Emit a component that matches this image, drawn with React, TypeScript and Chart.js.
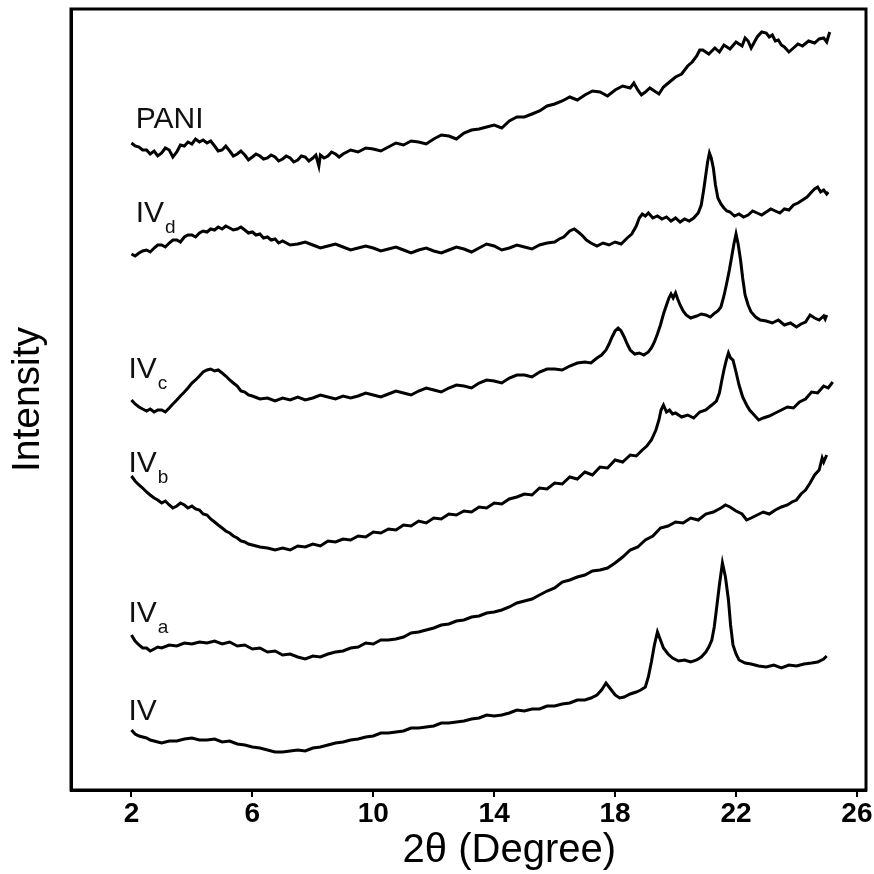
import React, { useEffect, useRef } from "react";
import { Chart, registerables } from "chart.js";

Chart.register(...registerables);

// 2θ tick labels
const xTicks = [2, 6, 10, 14, 18, 22, 26];
const xTitle = "2θ (Degree)";
const yTitle = "Intensity";

// Series (stacked XRD patterns, intensity in arbitrary units with offsets)
const PANI: [number, number][] = [
  [2.0,647],[2.12,644],[2.25,643],[2.37,640],[2.5,640],[2.62,636],[2.75,639],[2.87,634],[3.0,637],[3.12,642],[3.25,640],[3.37,633],[3.5,638],[3.62,645],[3.75,644],[3.87,648],[4.0,646],[4.12,651],[4.25,648],[4.37,650],[4.5,647],[4.62,649],[4.75,644],[4.87,639],[5.0,640],[5.12,644],[5.25,639],[5.37,634],[5.5,636],[5.62,639],[5.75,635],[5.87,630],[6.0,633],[6.12,636],[6.25,634],[6.37,631],[6.5,632],[6.62,635],[6.75,633],[6.87,629],[7.0,631],[7.12,634],[7.25,632],[7.37,628],[7.5,630],[7.62,634],[7.75,633],[7.87,629],[8.0,632],[8.1,635],[8.2,624],[8.25,635],[8.37,632],[8.5,634],[8.62,638],[8.75,636],[8.87,633],[9.0,636],[9.25,640],[9.5,638],[9.75,642],[10.0,641],[10.25,639],[10.5,643],[10.75,647],[11.0,645],[11.25,649],[11.5,648],[11.75,646],[12.0,651],[12.25,655],[12.5,654],[12.75,651],[13.0,657],[13.25,660],[13.5,661],[13.75,663],[14.0,665],[14.25,662],[14.5,669],[14.75,673],[15.0,673],[15.25,676],[15.5,679],[15.75,684],[16.0,686],[16.25,689],[16.5,693],[16.75,690],[17.0,695],[17.25,699],[17.5,698],[17.75,694],[18.0,700],[18.25,704],[18.5,702],[18.62,707],[18.75,700],[18.87,695],[19.0,698],[19.15,702],[19.3,699],[19.45,696],[19.6,703],[19.8,708],[20.0,713],[20.2,716],[20.4,724],[20.55,728],[20.7,734],[20.8,740],[20.9,740],[21.1,736],[21.3,742],[21.45,738],[21.6,745],[21.8,741],[22.0,748],[22.2,744],[22.3,752],[22.4,749],[22.5,742],[22.7,753],[22.85,758],[23.0,757],[23.1,753],[23.2,755],[23.3,749],[23.4,750],[23.5,745],[23.6,743],[23.75,738],[23.9,742],[24.05,746],[24.2,744],[24.4,749],[24.6,747],[24.75,751],[24.9,752],[25.0,748],[25.1,758],
];

const IVd: [number, number][] = [
  [2.0,536],[2.12,534],[2.25,537],[2.37,539],[2.5,540],[2.62,538],[2.75,542],[2.87,545],[3.0,545],[3.12,543],[3.25,547],[3.37,550],[3.5,550],[3.62,548],[3.75,553],[3.87,555],[4.0,555],[4.12,553],[4.25,557],[4.37,559],[4.5,558],[4.62,561],[4.75,560],[4.87,563],[5.0,561],[5.12,564],[5.25,562],[5.37,560],[5.5,561],[5.62,563],[5.75,560],[5.87,557],[6.0,558],[6.12,555],[6.25,556],[6.37,552],[6.5,553],[6.62,550],[6.75,551],[6.87,547],[7.0,549],[7.25,545],[7.5,546],[7.75,548],[8.0,545],[8.25,542],[8.5,544],[8.75,546],[9.0,543],[9.25,540],[9.5,542],[9.75,544],[10.0,542],[10.25,539],[10.5,541],[10.75,543],[11.0,540],[11.25,537],[11.5,540],[11.75,542],[12.0,539],[12.25,537],[12.5,540],[12.75,543],[13.0,541],[13.25,538],[13.5,542],[13.75,546],[14.0,544],[14.25,540],[14.5,542],[14.75,545],[15.0,543],[15.25,541],[15.5,545],[15.75,547],[16.0,548],[16.15,551],[16.3,553],[16.5,559],[16.65,561],[16.78,558],[16.9,555],[17.05,550],[17.2,547],[17.4,544],[17.6,547],[17.8,545],[18.0,548],[18.2,546],[18.4,552],[18.55,556],[18.7,564],[18.8,572],[18.9,576],[19.0,574],[19.1,577],[19.25,572],[19.4,574],[19.55,571],[19.7,573],[19.85,569],[20.0,572],[20.15,568],[20.3,571],[20.45,569],[20.6,572],[20.75,577],[20.85,585],[20.93,600],[21.0,615],[21.06,628],[21.12,637],[21.18,632],[21.25,622],[21.32,605],[21.4,592],[21.5,586],[21.6,582],[21.7,579],[21.8,578],[21.95,574],[22.1,576],[22.25,573],[22.4,575],[22.55,579],[22.7,577],[22.85,575],[23.0,578],[23.15,581],[23.3,579],[23.45,577],[23.6,581],[23.75,580],[23.9,585],[24.05,587],[24.2,590],[24.35,593],[24.5,598],[24.6,601],[24.7,603],[24.8,598],[24.9,600],[25.0,596],[25.05,598],
];

const IVc: [number, number][] = [
  [2.0,390],[2.12,386],[2.25,383],[2.37,381],[2.5,379],[2.62,381],[2.75,378],[2.87,380],[3.0,380],[3.12,378],[3.25,382],[3.37,386],[3.5,390],[3.62,394],[3.75,398],[3.87,402],[4.0,407],[4.12,410],[4.25,414],[4.37,418],[4.5,420],[4.62,421],[4.75,419],[4.87,420],[5.0,417],[5.12,414],[5.25,410],[5.37,407],[5.5,404],[5.62,399],[5.75,398],[5.87,395],[6.0,394],[6.25,391],[6.5,392],[6.75,389],[7.0,392],[7.25,390],[7.5,393],[7.75,390],[8.0,392],[8.25,395],[8.5,393],[8.75,391],[9.0,394],[9.25,392],[9.5,394],[9.75,397],[10.0,395],[10.25,393],[10.5,396],[10.75,399],[11.0,397],[11.25,395],[11.5,399],[11.75,402],[12.0,400],[12.25,398],[12.5,402],[12.75,405],[13.0,404],[13.25,402],[13.5,407],[13.75,410],[14.0,409],[14.25,407],[14.5,412],[14.75,415],[15.0,415],[15.25,413],[15.5,418],[15.75,421],[16.0,421],[16.25,420],[16.5,424],[16.75,427],[17.0,428],[17.2,427],[17.4,432],[17.55,435],[17.7,440],[17.8,446],[17.9,453],[18.0,459],[18.1,462],[18.2,459],[18.3,453],[18.4,446],[18.5,440],[18.65,436],[18.8,437],[18.95,435],[19.1,438],[19.2,442],[19.3,448],[19.4,456],[19.5,465],[19.6,476],[19.7,485],[19.78,492],[19.85,496],[19.92,492],[20.0,497],[20.07,491],[20.15,485],[20.25,479],[20.35,475],[20.5,472],[20.7,474],[20.85,476],[21.0,475],[21.15,473],[21.3,477],[21.4,479],[21.5,483],[21.6,494],[21.7,508],[21.78,520],[21.85,532],[21.93,546],[22.0,556],[22.07,546],[22.15,530],[22.22,512],[22.3,495],[22.4,485],[22.5,478],[22.65,473],[22.8,470],[23.0,469],[23.2,467],[23.4,470],[23.6,465],[23.8,467],[24.0,463],[24.15,466],[24.3,468],[24.45,475],[24.6,472],[24.75,470],[24.9,474],[24.95,471],[25.0,475],
];

const IVb: [number, number][] = [
  [2.0,314],[2.12,309],[2.25,305],[2.37,302],[2.5,298],[2.62,295],[2.75,292],[2.87,290],[3.0,287],[3.12,289],[3.25,285],[3.37,282],[3.5,284],[3.62,287],[3.75,285],[3.87,282],[4.0,284],[4.12,281],[4.25,280],[4.37,276],[4.5,275],[4.62,271],[4.75,268],[4.87,265],[5.0,262],[5.12,259],[5.25,257],[5.37,254],[5.5,252],[5.62,249],[5.75,248],[5.87,246],[6.0,245],[6.25,243],[6.5,242],[6.75,240],[7.0,242],[7.25,240],[7.5,244],[7.75,243],[8.0,246],[8.25,244],[8.5,249],[8.75,248],[9.0,251],[9.25,250],[9.5,254],[9.75,253],[10.0,258],[10.25,257],[10.5,261],[10.75,260],[11.0,265],[11.25,264],[11.5,269],[11.75,267],[12.0,272],[12.25,271],[12.5,276],[12.75,275],[13.0,279],[13.25,278],[13.5,283],[13.75,282],[14.0,287],[14.25,286],[14.5,291],[14.75,293],[15.0,296],[15.25,295],[15.5,302],[15.75,301],[16.0,307],[16.25,306],[16.5,313],[16.75,311],[17.0,318],[17.25,315],[17.5,323],[17.75,322],[18.0,330],[18.25,328],[18.5,335],[18.7,334],[18.9,340],[19.05,344],[19.2,350],[19.35,360],[19.45,370],[19.52,380],[19.6,385],[19.7,378],[19.8,380],[19.9,376],[20.0,377],[20.2,373],[20.4,375],[20.6,372],[20.8,378],[21.0,380],[21.2,385],[21.35,389],[21.45,397],[21.52,408],[21.6,420],[21.68,430],[21.75,437],[21.82,432],[21.9,430],[22.0,418],[22.1,405],[22.22,393],[22.35,385],[22.45,380],[22.6,375],[22.75,370],[22.9,372],[23.1,374],[23.3,377],[23.5,380],[23.7,383],[23.9,382],[24.1,388],[24.3,391],[24.5,398],[24.7,397],[24.9,404],[25.05,402],[25.2,408],
];

const IVa: [number, number][] = [
  [2.0,155],[2.12,149],[2.25,145],[2.37,142],[2.5,142],[2.62,139],[2.75,141],[2.87,143],[3.0,142],[3.25,145],[3.5,144],[3.75,147],[4.0,146],[4.25,148],[4.5,147],[4.75,149],[5.0,146],[5.25,148],[5.5,144],[5.75,145],[6.0,141],[6.25,142],[6.5,138],[6.75,139],[7.0,135],[7.25,136],[7.5,133],[7.75,131],[8.0,134],[8.25,133],[8.5,136],[8.75,138],[9.0,139],[9.25,142],[9.5,143],[9.75,147],[10.0,146],[10.25,150],[10.5,150],[10.75,151],[11.0,153],[11.25,157],[11.5,158],[11.75,160],[12.0,162],[12.25,165],[12.5,166],[12.75,169],[13.0,170],[13.25,173],[13.5,174],[13.75,177],[14.0,178],[14.25,180],[14.5,183],[14.75,187],[15.0,189],[15.25,191],[15.5,195],[15.75,199],[16.0,202],[16.25,208],[16.5,210],[16.75,213],[17.0,215],[17.25,219],[17.5,220],[17.75,222],[18.0,227],[18.25,233],[18.5,240],[18.75,243],[19.0,250],[19.25,254],[19.5,262],[19.75,264],[20.0,268],[20.25,267],[20.5,272],[20.75,270],[21.0,276],[21.25,278],[21.5,282],[21.65,285],[21.8,283],[22.0,279],[22.2,276],[22.35,270],[22.5,272],[22.7,275],[22.9,278],[23.1,276],[23.3,280],[23.5,283],[23.7,285],[23.85,288],[24.0,290],[24.15,296],[24.3,300],[24.45,307],[24.6,315],[24.75,320],[24.85,332],[24.9,328],[25.0,335],
];

const IV: [number, number][] = [
  [2.0,60],[2.12,56],[2.25,54],[2.37,53],[2.5,52],[2.62,50],[2.75,49],[2.87,48],[3.0,47],[3.25,49],[3.5,49],[3.75,51],[4.0,52],[4.25,50],[4.5,50],[4.75,51],[5.0,48],[5.25,49],[5.5,46],[5.75,45],[6.0,43],[6.25,42],[6.5,40],[6.75,38],[7.0,38],[7.25,39],[7.5,40],[7.75,39],[8.0,42],[8.25,43],[8.5,45],[8.75,47],[9.0,48],[9.25,50],[9.5,51],[9.75,53],[10.0,54],[10.25,57],[10.5,57],[10.75,58],[11.0,59],[11.25,62],[11.5,62],[11.75,63],[12.0,64],[12.25,67],[12.5,67],[12.75,68],[13.0,69],[13.25,71],[13.5,72],[13.75,75],[14.0,74],[14.25,75],[14.5,77],[14.75,80],[15.0,79],[15.25,81],[15.5,81],[15.75,84],[16.0,84],[16.25,86],[16.5,87],[16.75,90],[17.0,90],[17.2,92],[17.4,95],[17.55,100],[17.7,107],[17.85,101],[18.0,95],[18.15,92],[18.3,93],[18.5,96],[18.7,98],[18.85,100],[19.0,103],[19.1,113],[19.2,128],[19.3,145],[19.4,158],[19.5,150],[19.6,142],[19.75,136],[19.9,132],[20.1,129],[20.3,130],[20.5,128],[20.7,130],[20.85,133],[21.0,138],[21.1,143],[21.2,150],[21.28,163],[21.35,180],[21.45,205],[21.55,227],[21.65,213],[21.75,190],[21.82,165],[21.9,145],[22.0,136],[22.1,130],[22.3,127],[22.5,126],[22.75,124],[23.0,123],[23.25,125],[23.5,122],[23.75,125],[24.0,124],[24.25,126],[24.5,127],[24.7,128],[24.9,131],[25.0,134],
];

const seriesData = [PANI, IVd, IVc, IVb, IVa, IV];

// Curve labels: main text, subscript, and anchor (2θ, intensity) of the text baseline
const labelMain = ["PANI", "IV", "IV", "IV", "IV", "IV"];
const labelSub = ["", "d", "c", "b", "a", ""];
const labelX = [2.14, 2.14, 1.9, 1.9, 1.9, 1.9];
const labelY = [662, 568, 412, 318, 168, 70];

const FONT = "'Liberation Sans', Arial, Helvetica, sans-serif";

const framePlugin = {
  id: "frame",
  afterDraw(chart: any) {
    const { ctx, chartArea } = chart;
    ctx.save();
    ctx.strokeStyle = "#000";
    ctx.lineWidth = 3;
    ctx.strokeRect(chartArea.left, chartArea.top, chartArea.right - chartArea.left, chartArea.bottom - chartArea.top);
    ctx.restore();
  },
};

const textPlugin = {
  id: "curveLabels",
  afterDraw(chart: any) {
    const { ctx, scales } = chart;
    ctx.save();
    ctx.fillStyle = "#111";
    ctx.textBaseline = "alphabetic";
    ctx.textAlign = "left";
    labelMain.forEach((t, i) => {
      const px = scales.x.getPixelForValue(labelX[i]);
      const py = scales.y.getPixelForValue(labelY[i]);
      ctx.font = `30px ${FONT}`;
      ctx.fillText(t, px, py);
      const w = ctx.measureText(t).width;
      if (labelSub[i]) {
        ctx.font = `19px ${FONT}`;
        ctx.fillText(labelSub[i], px + w + 1, py + 11);
      }
    });
    // x-axis title (placed as in the original, right of centre)
    const xs = scales.x;
    ctx.font = `40px ${FONT}`;
    ctx.fillStyle = "#000";
    ctx.textAlign = "center";
    ctx.textBaseline = "middle";
    ctx.fillText(xTitle, xs.getPixelForValue(14.5), xs.bottom - 23);
    ctx.restore();
  },
};

export default function App() {
  const ref = useRef<HTMLCanvasElement | null>(null);
  useEffect(() => {
    document.body.style.margin = "0";
    const canvas = ref.current!;
    const chart = new Chart(canvas, {
      type: "line",
      data: {
        datasets: seriesData.map((s, i) => ({
          label: labelMain[i] + labelSub[i],
          data: s.map(([x, y]) => ({ x, y })),
          borderColor: "#000",
          borderWidth: 3,
          pointRadius: 0,
          tension: 0,
          fill: false,
        })),
      },
      options: {
        animation: false,
        responsive: false,
        maintainAspectRatio: false,
        layout: { padding: { top: 9, right: 8, left: 0, bottom: 0 } },
        plugins: { legend: { display: false }, tooltip: { enabled: false } },
        scales: {
          x: {
            type: "linear",
            min: 0,
            max: 26.3,
            afterBuildTicks: (s: any) => {
              s.ticks = xTicks.map((v) => ({ value: v }));
            },
            ticks: {
              font: { family: FONT, size: 28, weight: "bold" },
              color: "#000",
              padding: 0,
              maxRotation: 0,
              autoSkip: false,
            },
            grid: {
              display: true,
              drawOnChartArea: false,
              drawTicks: true,
              tickLength: 7,
              color: "#000",
              lineWidth: 2,
            },
            border: { display: true, color: "#000", width: 3 },
            title: { display: false, text: xTitle },
            afterFit: (s: any) => {
              s.height = 84;
            },
          },
          y: {
            type: "linear",
            min: 0,
            max: 781,
            ticks: { display: false },
            grid: { display: false },
            border: { display: true, color: "#000", width: 3 },
            title: {
              display: true,
              text: yTitle,
              font: { family: FONT, size: 39 },
              color: "#000",
              padding: { top: 5, bottom: 0 },
            },
            afterFit: (s: any) => {
              s.width = 71;
            },
          },
        },
      },
      plugins: [framePlugin, textPlugin],
    } as any);
    return () => chart.destroy();
  }, []);
  return (
    <canvas
      ref={ref}
      width={874}
      height={874}
      style={{ position: "absolute", left: 0, top: 0, width: 874, height: 874 }}
    />
  );
}
